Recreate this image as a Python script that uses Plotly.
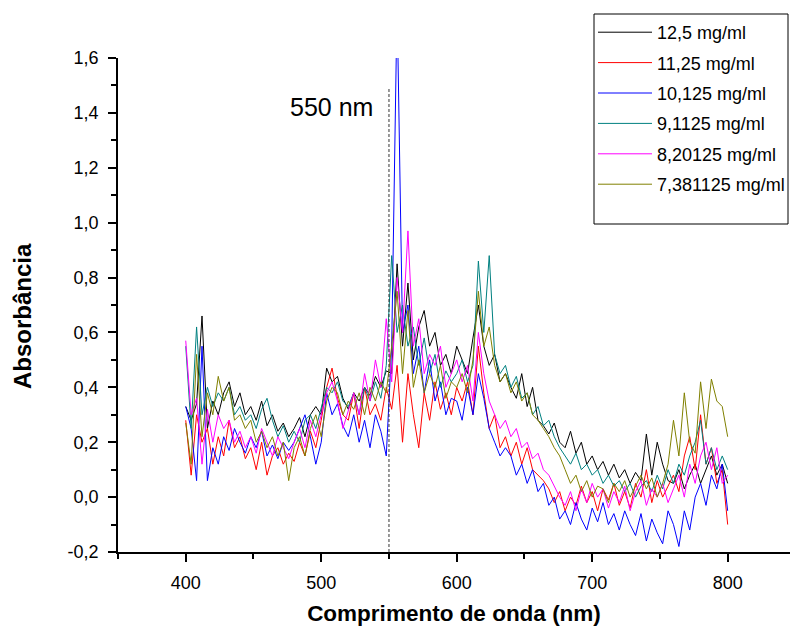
import plotly.graph_objects as go

# ---------------- data ----------------
wavelength = list(range(400, 801, 4))

series_names = ["12,5 mg/ml", "11,25 mg/ml", "10,125 mg/ml",
                "9,1125 mg/ml", "8,20125 mg/ml", "7,381125 mg/ml"]

abs_12_5 = [
    0.33, 0.28, 0.34, 0.66, 0.25, 0.35, 0.30, 0.38, 0.42, 0.33,
    0.38, 0.30, 0.33, 0.28, 0.35, 0.26, 0.30, 0.24, 0.27, 0.22,
    0.25, 0.29, 0.22, 0.30, 0.33, 0.30, 0.47, 0.42, 0.44, 0.36,
    0.32, 0.38, 0.35, 0.40, 0.37, 0.44, 0.40, 0.46, 0.45, 0.85,
    0.55, 0.78, 0.50, 0.62, 0.68, 0.55, 0.60, 0.48, 0.52, 0.45,
    0.55, 0.50, 0.45, 0.58, 0.70, 0.55, 0.48, 0.52, 0.42, 0.45,
    0.40, 0.36, 0.45, 0.33, 0.40, 0.28, 0.26, 0.23, 0.27, 0.20,
    0.18, 0.24, 0.16, 0.20, 0.12, 0.15, 0.10, 0.13, 0.08, 0.12,
    0.07, 0.10, 0.05, 0.09, 0.06, 0.23, 0.08, 0.20, 0.12, 0.06,
    0.05, 0.10, 0.03, 0.08, 0.12, 0.05, 0.10, 0.15, 0.08, 0.12,
    0.05,
]

abs_11_25 = [
    0.28, 0.08, 0.30, 0.20, 0.25, 0.12, 0.22, 0.15, 0.28, 0.18,
    0.22, 0.14, 0.18, 0.10, 0.20, 0.08, 0.15, 0.18, 0.12, 0.16,
    0.13, 0.20, 0.15, 0.24, 0.18, 0.28, 0.40, 0.47, 0.36, 0.30,
    0.28, 0.38, 0.25, 0.40, 0.30, 0.34, 0.28, 0.40, 0.32, 0.48,
    0.20, 0.45, 0.30, 0.18, 0.38, 0.28, 0.42, 0.32, 0.38, 0.30,
    0.40, 0.35, 0.42, 0.30, 0.55, 0.38, 0.25, 0.30, 0.18, 0.22,
    0.15, 0.20, 0.12, 0.18, 0.10, 0.08, 0.06, 0.03, -0.02, 0.02,
    -0.05, 0.00, -0.03, 0.04, -0.02, 0.02, -0.05, 0.03, -0.01, 0.05,
    -0.03, 0.02, -0.04, 0.05, 0.00, 0.10, -0.02, 0.06, 0.00, 0.04,
    0.08, 0.02, 0.15, 0.22, 0.10, 0.30, 0.12, 0.18, 0.05, 0.10,
    -0.10,
]

abs_10_125 = [
    0.33, 0.25, 0.06, 0.55, 0.06, 0.18, 0.12, 0.22, 0.17, 0.25,
    0.20, 0.16, 0.22, 0.18, 0.24, 0.15, 0.19, 0.14, 0.20, 0.17,
    0.20, 0.25, 0.30, 0.22, 0.12, 0.20, 0.38, 0.30, 0.34, 0.26,
    0.22, 0.30, 0.20, 0.28, 0.18, 0.30, 0.24, 0.15, 0.55, 1.80,
    0.60, 0.70, 0.45, 0.55, 0.38, 0.50, 0.35, 0.42, 0.30, 0.36,
    0.35, 0.28, 0.40, 0.30, 0.45, 0.36, 0.25, 0.20, 0.15, 0.18,
    0.15, 0.08, 0.12, 0.05, 0.10, 0.02, 0.05, -0.03, 0.00, -0.08,
    -0.05, -0.10, -0.02, -0.08, -0.12, -0.04, -0.09, -0.02, -0.10, -0.06,
    -0.12, -0.05, -0.10, -0.14, -0.06, -0.16, -0.08, -0.13, -0.17, -0.05,
    -0.10, -0.18, -0.05, -0.12, 0.00, 0.05, -0.03, 0.08, 0.03, 0.12,
    -0.05,
]

abs_9_1125 = [
    0.55, 0.25, 0.62, 0.30, 0.40, 0.33, 0.38, 0.35, 0.40, 0.30,
    0.33, 0.28, 0.30, 0.25, 0.32, 0.36, 0.28, 0.22, 0.26, 0.20,
    0.24, 0.20, 0.28, 0.30, 0.25, 0.32, 0.40, 0.38, 0.42, 0.35,
    0.33, 0.38, 0.30, 0.40, 0.35, 0.42, 0.36, 0.48, 0.88, 0.60,
    0.70, 0.55, 0.62, 0.48, 0.58, 0.45, 0.52, 0.40, 0.46, 0.42,
    0.45, 0.50, 0.42, 0.48, 0.86, 0.60, 0.88, 0.52, 0.45, 0.48,
    0.40, 0.44, 0.36, 0.38, 0.30, 0.33, 0.26, 0.28, 0.22, 0.18,
    0.15, 0.12, 0.16, 0.10, 0.12, 0.08, 0.10, 0.05, 0.08, 0.04,
    0.06, 0.02, 0.05, 0.00, 0.04, 0.06, 0.02, 0.08, 0.03, 0.10,
    0.05, 0.12, 0.08, 0.15, 0.20, 0.28, 0.12, 0.18, 0.10, 0.15,
    0.10,
]

abs_8_20125 = [
    0.57, 0.30, 0.36, 0.12, 0.32, 0.20, 0.30, 0.25, 0.28, 0.20,
    0.24, 0.18, 0.22, 0.16, 0.25, 0.20, 0.15, 0.22, 0.18, 0.14,
    0.20, 0.25, 0.18, 0.28, 0.22, 0.30, 0.38, 0.42, 0.35, 0.25,
    0.32, 0.38, 0.30, 0.45, 0.35, 0.50, 0.40, 0.65, 0.42, 0.80,
    0.60, 0.97, 0.55, 0.65, 0.45, 0.52, 0.48, 0.55, 0.40, 0.45,
    0.50, 0.42, 0.48, 0.35, 0.60, 0.45, 0.35, 0.30, 0.25, 0.28,
    0.22, 0.25, 0.18, 0.20, 0.14, 0.16, 0.10, 0.08, 0.04, 0.00,
    -0.03, 0.02, -0.05, 0.03, -0.02, 0.05, 0.00, 0.03, -0.04, 0.02,
    -0.02, 0.04, -0.05, 0.02, 0.06, -0.03, 0.03, 0.00, 0.05, -0.02,
    0.03, 0.08, 0.00, 0.12, 0.05, 0.15, 0.20, 0.10, 0.18, 0.05,
    0.08,
]

abs_7_381125 = [
    0.27, 0.12, 0.52, 0.22, 0.38, 0.30, 0.44, 0.35, 0.40, 0.28,
    0.30, 0.25, 0.28, 0.20, 0.24, 0.18, 0.22, 0.15, 0.20, 0.06,
    0.18, 0.22, 0.15, 0.25, 0.30, 0.22, 0.35, 0.40, 0.38, 0.30,
    0.35, 0.32, 0.38, 0.30, 0.40, 0.35, 0.42, 0.38, 0.55, 0.75,
    0.45, 0.68, 0.40, 0.50, 0.38, 0.45, 0.40, 0.48, 0.36, 0.42,
    0.40, 0.45, 0.38, 0.50, 0.75, 0.55, 0.62, 0.48, 0.42, 0.45,
    0.38, 0.42, 0.35, 0.38, 0.30, 0.28, 0.25, 0.22, 0.18, 0.15,
    0.10, 0.05, 0.08, 0.02, 0.06, 0.00, 0.04, 0.03, -0.02, 0.05,
    0.02, 0.06, 0.00, 0.04, 0.08, 0.03, 0.07, 0.00, 0.05, 0.12,
    0.28, 0.15, 0.38, 0.20, 0.16, 0.42, 0.25, 0.43, 0.35, 0.33,
    0.22,
]

series_values = [abs_12_5, abs_11_25, abs_10_125, abs_9_1125, abs_8_20125, abs_7_381125]

marker_wavelength = [550, 550]
marker_absorbance = [-0.2, 1.49]
marker_label = "550 nm"

x_tick_vals = [400, 500, 600, 700, 800]
x_tick_text = ["400", "500", "600", "700", "800"]
x_minor_vals = [350, 450, 550, 650, 750]
y_tick_vals = [-0.2, 0.0, 0.2, 0.4, 0.6, 0.8, 1.0, 1.2, 1.4, 1.6]
y_tick_text = ["-0,2", "0,0", "0,2", "0,4", "0,6", "0,8", "1,0", "1,2", "1,4", "1,6"]
y_minor_vals = [-0.1, 0.1, 0.3, 0.5, 0.7, 0.9, 1.1, 1.3, 1.5]

x_title = "Comprimento de onda (nm)"
y_title = "Absorbância"

# ---------------- styles ----------------
colors = ["#000000", "#FF0000", "#0000FF", "#008080", "#FF00FF", "#808000"]
FONT = "Liberation Sans, Arial, sans-serif"
L, T, W, H = 118, 58, 672, 494  # plot area in pixels

fig = go.Figure()
for name, vals, col in zip(series_names, series_values, colors):
    fig.add_trace(go.Scatter(
        x=wavelength, y=vals, mode="lines", name=name,
        legendgroup=name,
        line=dict(color=col, width=1),
    ))

fig.add_trace(go.Scatter(
    x=marker_wavelength, y=marker_absorbance, mode="lines",
    line=dict(color="#333333", width=1, dash="3px,2px"),
    showlegend=False, hoverinfo="skip",
))

fig.add_annotation(
    x=marker_wavelength[0] - 10, y=1.42, text=marker_label,
    showarrow=False, xanchor="right", yanchor="middle",
    font=dict(family=FONT, size=25, color="#000000"),
)

# y axis title (placed as rotated annotation)
fig.add_annotation(
    xref="paper", yref="paper", x=(23 - L) / W, y=(T + H - 316) / H,
    text=y_title, textangle=-90, showarrow=False,
    xanchor="center", yanchor="middle",
    font=dict(family=FONT, size=24, color="#000000", weight="bold"),
)

# legend frame
fig.add_shape(type="rect", xref="paper", yref="paper",
              x0=(594 - L) / W, x1=(788 - L) / W,
              y0=1 + (T - 224) / H, y1=1 + (T - 14) / H,
              line=dict(color="#000000", width=1), fillcolor="rgba(0,0,0,0)")

axis_common = dict(
    showline=True, linecolor="#000000", linewidth=1.5,
    ticks="outside", ticklen=8, tickwidth=1.5, tickcolor="#000000",
    showgrid=False, zeroline=False, mirror=False,
    tickfont=dict(family=FONT, size=18, color="#000000"),
)

fig.update_xaxes(
    range=[350, 846], tickmode="array", tickvals=x_tick_vals, ticktext=x_tick_text,
    minor=dict(tickmode="array", tickvals=x_minor_vals, ticks="outside", ticklen=5,
               tickwidth=1.5, tickcolor="#000000"),
    title=dict(text=x_title, font=dict(family=FONT, size=22.5, color="#000000", weight="bold"),
               standoff=13),
    ticklabelstandoff=6,
    **axis_common,
)
fig.update_yaxes(
    range=[-0.2, 1.6], tickmode="array", tickvals=y_tick_vals, ticktext=y_tick_text,
    minor=dict(tickmode="array", tickvals=y_minor_vals, ticks="outside", ticklen=5,
               tickwidth=1.5, tickcolor="#000000"),
    ticklabelstandoff=6,
    **axis_common,
)

fig.update_layout(
    width=790, height=628,
    margin=dict(l=L, r=0, t=T, b=76, pad=0),
    paper_bgcolor="#FFFFFF", plot_bgcolor="#FFFFFF",
    showlegend=True,
    legend=dict(
        x=(593 - L) / W, y=1 + (T - 14) / H, xanchor="left", yanchor="top",
        bgcolor="rgba(0,0,0,0)", borderwidth=0,
        font=dict(family=FONT, size=18, color="#000000"),
        itemwidth=54, tracegroupgap=4, traceorder="grouped",
    ),
    font=dict(family=FONT, color="#000000"),
)

fig.write_html("out.html")
